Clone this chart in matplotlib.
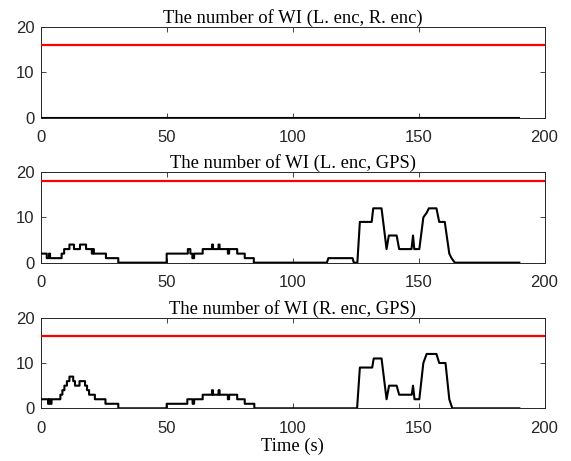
import matplotlib
matplotlib.use("Agg")
import matplotlib.pyplot as plt

# ---------------- data ----------------
titles = ["The number of WI (L. enc, R. enc)",
          "The number of WI (L. enc, GPS)",
          "The number of WI (R. enc, GPS)"]
thresholds = [16, 18, 16]

x_ticks = [0, 50, 100, 150, 200]
y_ticks = [0, 10, 20]

# panel 1: (L. enc, R. enc)
lr_t = [0, 190]
lr_v = [0, 0]

# panel 2: (L. enc, GPS)
lg_t = [0, 2.4, 2.4, 3.3, 3.3, 3.7, 3.7, 8.3, 8.3, 9.3, 9.3, 11.4, 11.4, 13.2, 13.2,
        15.6, 15.6, 18.0, 18.0, 20.3, 20.3, 20.7, 20.7, 21.1, 21.1, 25.9, 25.9,
        30.8, 30.8, 50.0, 50.0, 58.4, 58.4, 59.4, 59.4, 60.2, 60.2, 60.9, 60.9,
        64.3, 64.3, 68.0, 68.0, 68.4, 68.4, 70.6, 70.6, 71.0, 71.0, 74.3, 74.3,
        74.8, 74.8, 78.0, 78.0, 81.0, 81.0, 84.6, 84.6, 113.6, 114.2, 123.8,
        124.3, 125.7, 126.7, 131.4, 132.0, 135.3, 137.3, 138.2, 141.3, 142.3,
        147.2, 147.8, 148.3, 150.3, 151.9, 153.2, 154.1, 157.1, 158.2, 160.4,
        162.2, 163.1, 164.4, 190]
lg_v = [2, 2, 1, 1, 2, 2, 1, 1, 2, 2, 3, 3, 4, 4, 3,
        3, 4, 4, 3, 3, 2, 2, 3, 3, 2, 2, 1,
        1, 0, 0, 2, 2, 3, 3, 2, 2, 1, 1, 2,
        2, 3, 3, 4, 4, 3, 3, 4, 4, 3, 3, 2,
        2, 3, 3, 2, 2, 1, 1, 0, 0, 1, 1,
        0, 0, 9, 9, 12, 12, 3, 6, 6, 3,
        3, 6, 3, 3, 10, 11, 12, 12, 9, 9,
        2, 1, 0, 0]

# panel 3: (R. enc, GPS)
rg_t = [0, 2.9, 2.9, 3.3, 3.3, 3.8, 3.8, 4.3, 4.3, 7.8, 7.8, 8.6, 8.6, 9.4, 9.4,
        10.4, 10.4, 11.4, 11.4, 12.9, 12.9, 13.6, 13.6, 15.4, 15.4, 17.6, 17.6,
        18.4, 18.4, 19.2, 19.2, 21.5, 21.5, 25.7, 25.7, 30.8, 30.8, 50.0, 50.0,
        58.2, 58.2, 60.3, 60.3, 60.9, 60.9, 64.3, 64.3, 68.0, 68.0, 68.4, 68.4,
        70.6, 70.6, 71.0, 71.0, 74.3, 74.3, 74.8, 74.8, 78.0, 78.0, 81.0, 81.0,
        84.8, 84.8, 125.6, 126.7, 131.6, 132.2, 135.3, 137.3, 138.3, 141.3,
        142.3, 147.3, 147.8, 148.4, 150.3, 151.9, 153.2, 157.1, 158.2, 160.7,
        162.2, 163.4, 190]
rg_v = [2, 2, 1, 1, 2, 2, 1, 1, 2, 2, 3, 3, 4, 4, 5,
        5, 6, 6, 7, 7, 6, 6, 5, 5, 6, 6, 5,
        5, 4, 4, 3, 3, 2, 2, 1, 1, 0, 0, 1,
        1, 2, 2, 1, 1, 2, 2, 3, 3, 4, 4, 3,
        3, 4, 4, 3, 3, 2, 2, 3, 3, 2, 2, 1,
        1, 0, 0, 9, 9, 11, 11, 2, 5, 5,
        3, 3, 5, 2, 2, 10, 12, 12, 10, 10,
        2, 0, 0]

series_t = [lr_t, lg_t, rg_t]
series_v = [lr_v, lg_v, rg_v]

# ---------------- figure ----------------
fig = plt.figure(figsize=(5.71, 4.61), dpi=100)
left, width, height = 0.0713, 0.8823, 0.1965
bottoms = [0.7451, 0.4302, 0.1143]

serif = ["Liberation Serif", "DejaVu Serif"]
sans = ["Liberation Sans", "DejaVu Sans"]

for i in range(3):
    ax = fig.add_axes([left, bottoms[i], width, height])
    ax.plot(series_t[i], series_v[i], color="black", lw=1.5, zorder=3)
    ax.axhline(thresholds[i], color="#ff0000", lw=1.6, zorder=4)
    ax.set_xlim(0, 200)
    ax.set_ylim(0, 20)
    ax.set_xticks(x_ticks)
    ax.set_yticks(y_ticks)
    ax.tick_params(direction="in", length=3.5, width=0.6, top=True, right=True,
                   labelsize=12, colors="#262626")
    ax.tick_params(axis="x", pad=9)
    ax.tick_params(axis="y", pad=4.5)
    for lab in ax.get_xticklabels() + ax.get_yticklabels():
        lab.set_family(sans)
    for sp in ax.spines.values():
        sp.set_linewidth(0.7)
        sp.set_color("#262626")
    ax.set_title(titles[i], family=serif, fontsize=13.4, pad=3)
    if i == 2:
        ax.set_xlabel("Time (s)", family=serif, fontsize=13.4, labelpad=1)

fig.savefig("out.png", dpi=100)
